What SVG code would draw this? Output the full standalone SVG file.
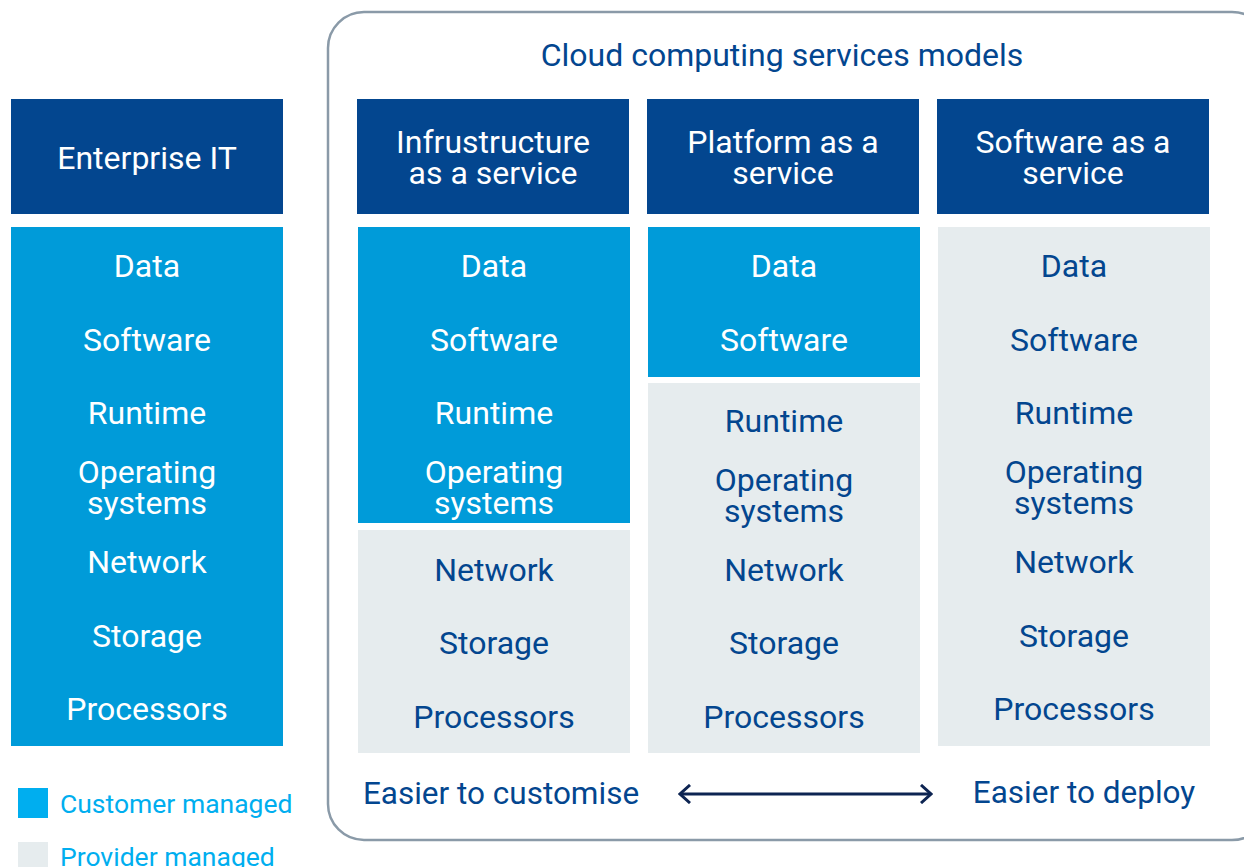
<svg xmlns="http://www.w3.org/2000/svg" width="1244" height="867" viewBox="0 0 1244 867">
<defs>
<style>
text{font-family:Roboto,"Liberation Sans",sans-serif;text-anchor:middle}
.hd{fill:#03468f}
.cb{fill:#009bd9}
.pg{fill:#e6ecee}
.w{fill:#ffffff;font-size:32px}
.d{fill:#03468f;font-size:32px}
.leg{fill:#00aeef;font-size:26.5px;text-anchor:start}
</style>
<marker id="chev" viewBox="0 0 20 20" refX="18" refY="10" markerWidth="20" markerHeight="20" markerUnits="userSpaceOnUse" orient="auto-start-reverse">
<path d="M8 1 L18 10 L8 19" fill="none" stroke="#0d2452" stroke-width="3"/>
</marker>
</defs>
<rect width="1244" height="867" fill="#ffffff"/>
<g id="cloud-frame">
<rect x="328" y="12" width="940" height="828" rx="36" fill="none" stroke="#8a9aa8" stroke-width="2.5"/>
<text x="782" y="66" style="fill:#03468f;font-size:32px">Cloud computing services models</text>
</g>
<g id="enterprise-it">
<rect class="hd" x="11" y="99" width="272" height="115"/>
<text class="w" x="147" y="169">Enterprise IT</text>
<rect class="cb" x="11" y="227" width="272" height="519"/>
<text class="w" x="147" y="277">Data</text>
<text class="w" x="147" y="351">Software</text>
<text class="w" x="147" y="424">Runtime</text>
<text class="w" x="147" y="483">Operating</text>
<text class="w" x="147" y="514">systems</text>
<text class="w" x="147" y="573">Network</text>
<text class="w" x="147" y="647">Storage</text>
<text class="w" x="147" y="720">Processors</text>
</g>
<g id="iaas">
<rect class="hd" x="357" y="99" width="272" height="115"/>
<text class="w" x="493" y="153">Infrustructure</text>
<text class="w" x="493" y="184">as a service</text>
<rect class="cb" x="358" y="227" width="272" height="296"/>
<rect class="pg" x="358" y="530" width="272" height="223"/>
<text class="w" x="494" y="277">Data</text>
<text class="w" x="494" y="351">Software</text>
<text class="w" x="494" y="424">Runtime</text>
<text class="w" x="494" y="483">Operating</text>
<text class="w" x="494" y="514">systems</text>
<text class="d" x="494" y="581">Network</text>
<text class="d" x="494" y="654">Storage</text>
<text class="d" x="494" y="728">Processors</text>
</g>
<g id="paas">
<rect class="hd" x="647" y="99" width="272" height="115"/>
<text class="w" x="783" y="153">Platform as a</text>
<text class="w" x="783" y="184">service</text>
<rect class="cb" x="648" y="227" width="272" height="150"/>
<rect class="pg" x="648" y="383" width="272" height="370"/>
<text class="w" x="784" y="277">Data</text>
<text class="w" x="784" y="351">Software</text>
<text class="d" x="784" y="432">Runtime</text>
<text class="d" x="784" y="491">Operating</text>
<text class="d" x="784" y="522">systems</text>
<text class="d" x="784" y="581">Network</text>
<text class="d" x="784" y="654">Storage</text>
<text class="d" x="784" y="728">Processors</text>
</g>
<g id="saas">
<rect class="hd" x="937" y="99" width="272" height="115"/>
<text class="w" x="1073" y="153">Software as a</text>
<text class="w" x="1073" y="184">service</text>
<rect class="pg" x="938" y="227" width="272" height="519"/>
<text class="d" x="1074" y="277">Data</text>
<text class="d" x="1074" y="351">Software</text>
<text class="d" x="1074" y="424">Runtime</text>
<text class="d" x="1074" y="483">Operating</text>
<text class="d" x="1074" y="514">systems</text>
<text class="d" x="1074" y="573">Network</text>
<text class="d" x="1074" y="647">Storage</text>
<text class="d" x="1074" y="720">Processors</text>
</g>
<g id="scale">
<text class="d" x="501" y="804" style="font-size:31.5px">Easier to customise</text>
<text class="d" x="1084" y="803" style="font-size:31.5px">Easier to deploy</text>
</g>
<g id="connectors">
<line x1="680" y1="794" x2="931" y2="794" stroke="#0d2452" stroke-width="3" marker-start="url(#chev)" marker-end="url(#chev)"/>
</g>
<g id="legend">
<rect x="18" y="788" width="30" height="30" fill="#00aeef"/>
<text class="leg" x="60" y="813">Customer managed</text>
<rect x="18" y="842" width="30" height="30" fill="#e6ecee"/>
<text class="leg" x="60" y="866">Provider managed</text>
</g>
</svg>
